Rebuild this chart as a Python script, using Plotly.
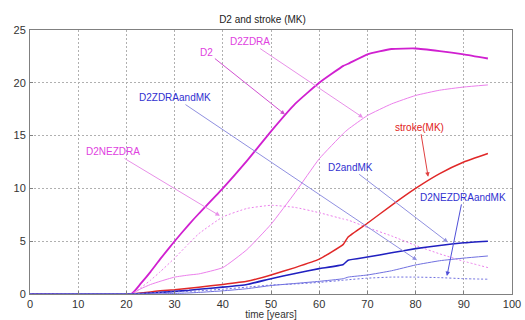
import plotly.graph_objects as go

years = [0, 21, 23, 25, 27, 30, 33, 35, 40, 45, 50, 55, 60, 65, 66, 70, 75, 80, 85, 90, 95]
d2 = [0, 0, 1.0, 2.1, 3.3, 5.0, 6.6, 7.6, 10.0, 12.6, 15.4, 18.0, 20.0, 21.6, 21.8, 22.7, 23.2, 23.25, 23.0, 22.7, 22.3]
d2zdra = [0, 0, 0.5, 0.9, 1.2, 1.6, 1.8, 1.9, 2.5, 4.2, 6.6, 9.6, 12.8, 15.2, 15.6, 16.9, 18.0, 18.8, 19.3, 19.6, 19.8]
d2nezdra = [0, 0, 0.6, 1.3, 2.1, 3.4, 4.8, 5.7, 7.3, 8.1, 8.4, 8.2, 7.7, 7.1, 7.0, 6.3, 5.5, 4.6, 3.8, 3.1, 2.5]
stroke = [0, 0, 0.1, 0.2, 0.3, 0.4, 0.55, 0.65, 0.9, 1.2, 1.8, 2.5, 3.3, 4.7, 5.4, 6.7, 8.4, 10.0, 11.4, 12.5, 13.3]
d2andmk = [0, 0, 0.05, 0.1, 0.15, 0.25, 0.35, 0.45, 0.65, 0.9, 1.45, 1.95, 2.4, 2.8, 3.2, 3.5, 3.9, 4.3, 4.6, 4.85, 5.0]
d2zdraandmk = [0, 0, 0, 0, 0.02, 0.05, 0.1, 0.15, 0.3, 0.5, 0.8, 1.0, 1.2, 1.45, 1.6, 1.8, 2.2, 2.75, 3.15, 3.4, 3.6]
d2nezdraandmk = [0, 0, 0.05, 0.1, 0.15, 0.2, 0.25, 0.3, 0.45, 0.65, 0.85, 0.95, 1.1, 1.3, 1.35, 1.5, 1.6, 1.6, 1.55, 1.45, 1.4]

x_ticks = list(range(0, 101, 10))
y_ticks = list(range(0, 26, 5))

# label, text position (x, y), arrow head (x, y), text colour, arrow colour
labels = ["D2", "D2ZDRA", "D2ZDRAandMK", "D2NEZDRA", "stroke(MK)", "D2andMK", "D2NEZDRAandMK"]
text_x = [36.7, 45.6, 30.1, 17.2, 80.9, 66.4, 89.8]
text_y = [22.9, 23.9, 18.6, 13.5, 15.8, 12.0, 9.15]
head_x = [52.9, 69.1, 80.3, 39.4, 82.6, 86.7, 86.5]
head_y = [17.0, 16.7, 3.2, 7.4, 11.1, 4.9, 1.7]
text_colors = ["#e040e0", "#e040e0", "#3030d0", "#e040e0", "#e02020", "#3030d0", "#3030d0"]
arrow_colors = ["#d050d0", "#e890e8", "#9090e0", "#e890e8", "#e04040", "#9090e0", "#5050d8"]

MAG = "#d020d0"
MAG_L = "#ec80ec"
RED = "#e02828"
BLUE = "#2020c0"
BLUE_L = "#7070e0"

fig = go.Figure()
series = [
    (d2, MAG, 1.8, "solid"),
    (d2zdra, MAG_L, 1, "solid"),
    (d2nezdra, MAG_L, 1, "2px,2px"),
    (stroke, RED, 1.5, "solid"),
    (d2andmk, BLUE, 1.6, "solid"),
    (d2zdraandmk, BLUE_L, 1, "solid"),
    (d2nezdraandmk, BLUE_L, 1, "2px,2px"),
]
for vals, col, w, dash in series:
    fig.add_trace(go.Scatter(x=years, y=vals, mode="lines",
                             line=dict(color=col, width=w, dash=dash, shape="spline", smoothing=0.4),
                             showlegend=False, hoverinfo="skip"))

for i, lab in enumerate(labels):
    fig.add_annotation(x=head_x[i], y=head_y[i], ax=text_x[i], ay=text_y[i],
                       xref="x", yref="y", axref="x", ayref="y",
                       text=lab, showarrow=True, arrowhead=2, arrowsize=0.9,
                       arrowwidth=1, arrowcolor=arrow_colors[i],
                       font=dict(color=text_colors[i], size=10,
                                 family="Liberation Sans, Arial, sans-serif"))

axis_common = dict(showgrid=True, gridcolor="#b0b0b0", griddash="2px,2px", gridwidth=1,
                   showline=True, linecolor="#808080", linewidth=1, mirror=True,
                   zeroline=False, ticks="inside", ticklen=3, tickcolor="#808080",
                   automargin=False,
                   tickfont=dict(size=11, color="#333333"))

fig.update_layout(
    width=525, height=320,
    margin=dict(l=30, r=13, t=30, b=26),
    paper_bgcolor="white", plot_bgcolor="white",
    font=dict(family="Liberation Sans, Arial, sans-serif", size=10, color="#333333"),
    title=dict(text="D2 and stroke (MK)", x=0.5, xanchor="center", y=0.94, yanchor="middle",
               yref="container", font=dict(size=10, color="#222222")),
    xaxis=dict(range=[0, 100], tickvals=x_ticks, ticklabelstandoff=0,
               title=dict(text="time [years]", standoff=0, font=dict(size=10)), **axis_common),
    yaxis=dict(range=[0, 25], tickvals=y_ticks, ticklabelstandoff=1, **axis_common),
)

fig.write_html("out.html", config={"displayModeBar": False, "staticPlot": True},
               post_script="document.body.style.margin='0px';document.body.style.overflow='hidden';")
